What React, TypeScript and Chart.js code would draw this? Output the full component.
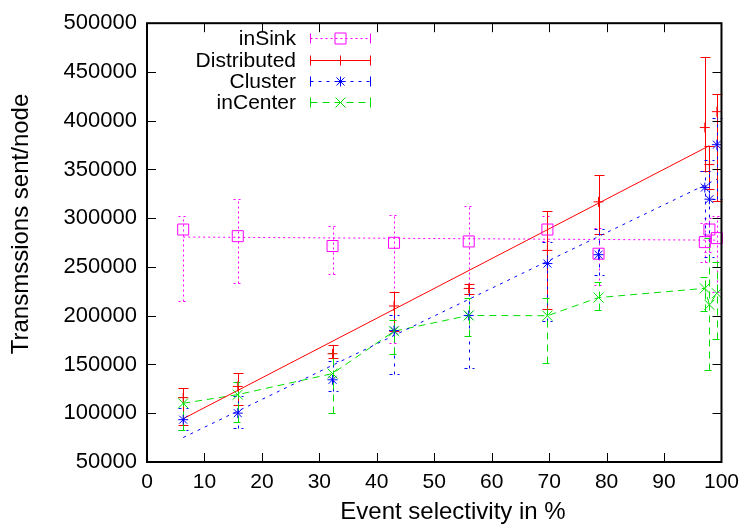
import React, { useEffect, useRef } from "react";
import { Chart, registerables } from "chart.js";

Chart.register(...registerables);

// ---- data ----
const xValues = [6.3, 15.8, 32.3, 43.0, 56.0, 69.7, 78.6, 97.1, 97.9, 99.2];

const inSinkY = [288400, 281600, 271500, 274800, 276200, 288400, 263600, 275500, 288400, 279600];
const inSinkLow = [214600, 233200, 242300, 171600, 222000, 276200, 231500, 255000, 265000, 224700];
const inSinkHigh = [302600, 319500, 292500, 303200, 312800, 302600, 289700, 295000, 300000, 302000];

const distributedY = [116000, 127500, 161000, 210000, 228000, 267000, 316800, 393000, 355000, 409300];
const distributedLow = [88000, 108000, 157000, 184000, 222000, 206700, 284000, 348300, 330000, 317900];
const distributedHigh = [125500, 141700, 170000, 224700, 233000, 307700, 343900, 465200, 373700, 427900];

const clusterY = [93400, 100100, 134300, 184800, 200300, 253500, 262600, 331400, 319500, 375400];
const clusterLow = [83000, 85200, 122400, 140700, 146800, 194200, 241700, 282000, 260000, 320000];
const clusterHigh = [105000, 118000, 153600, 200300, 228800, 275500, 289100, 348600, 360000, 402500];

const inCenterY = [110200, 119100, 140700, 184100, 200300, 200000, 218600, 228100, 211200, 223000];
const inCenterLow = [82500, 91000, 100500, 160400, 179700, 151900, 205400, 204400, 144500, 175700];
const inCenterHigh = [116300, 131600, 162000, 196000, 218000, 218000, 234900, 240000, 280000, 255000];

// straight trend lines (end points)
const inSinkFitX = [6.3, 99.2];
const inSinkFitY = [280700, 277500];
const distributedFitX = [6.3, 97.9];
const distributedFitY = [94400, 374400];
const clusterFitX = [6.3, 99.2];
const clusterFitY = [75100, 340000];

const seriesNames = ["inSink", "Distributed", "Cluster", "inCenter"];
const xTitle = "Event selectivity in %";
const yTitle = "Transmssions sent/node";
const xMin = 0, xMax = 100, xStep = 10;
const yMin = 50000, yMax = 500000, yStep = 50000;

// ---- styles ----
const FONT = "'Liberation Sans', Arial, sans-serif";
const MAGENTA = "#ff00ff";
const RED = "#ff0000";
const BLUE = "#0000ff";
const GREEN = "#00e000";
const DASH_SINK = [2, 3];
const DASH_RED: number[] = [];
const DASH_BLUE = [3, 5];
const DASH_GREEN = [7, 5];

const pts = (xs: number[], ys: number[]) => xs.map((x, i) => ({ x, y: ys[i] }));

const series = [
  { name: seriesNames[0], color: MAGENTA, dash: DASH_SINK, y: inSinkY, low: inSinkLow, high: inSinkHigh, marker: "square" },
  { name: seriesNames[1], color: RED, dash: DASH_RED, y: distributedY, low: distributedLow, high: distributedHigh, marker: "plus" },
  { name: seriesNames[2], color: BLUE, dash: DASH_BLUE, y: clusterY, low: clusterLow, high: clusterHigh, marker: "star" },
  { name: seriesNames[3], color: GREEN, dash: DASH_GREEN, y: inCenterY, low: inCenterLow, high: inCenterHigh, marker: "cross" },
];

function drawMarker(ctx: CanvasRenderingContext2D, kind: string, x: number, y: number) {
  ctx.setLineDash([]);
  ctx.beginPath();
  if (kind === "square") {
    ctx.rect(x - 5.5, y - 5.5, 11, 11);
  } else if (kind === "plus") {
    ctx.moveTo(x - 5, y); ctx.lineTo(x + 5, y);
    ctx.moveTo(x, y - 5); ctx.lineTo(x, y + 5);
  } else if (kind === "star") {
    ctx.moveTo(x - 5, y); ctx.lineTo(x + 5, y);
    ctx.moveTo(x, y - 5); ctx.lineTo(x, y + 5);
    ctx.moveTo(x - 4, y - 4); ctx.lineTo(x + 4, y + 4);
    ctx.moveTo(x - 4, y + 4); ctx.lineTo(x + 4, y - 4);
  } else {
    ctx.moveTo(x - 5, y - 5); ctx.lineTo(x + 5, y + 5);
    ctx.moveTo(x - 5, y + 5); ctx.lineTo(x + 5, y - 5);
  }
  ctx.stroke();
}

const errorBarPlugin = {
  id: "errorBars",
  beforeDatasetsDraw(chart: any) {
    const { ctx, scales } = chart;
    const xs = scales.x, ys = scales.y;
    ctx.save();
    ctx.lineWidth = 1;
    series.forEach((s) => {
      ctx.strokeStyle = s.color;
      ctx.setLineDash(s.dash);
      xValues.forEach((xv, i) => {
        const px = Math.round(xs.getPixelForValue(xv)) + 0.5;
        const pl = Math.round(ys.getPixelForValue(s.low[i])) + 0.5;
        const ph = Math.round(ys.getPixelForValue(s.high[i])) + 0.5;
        ctx.beginPath();
        ctx.moveTo(px, pl); ctx.lineTo(px, ph);
        ctx.moveTo(px - 5, pl); ctx.lineTo(px + 5, pl);
        ctx.moveTo(px - 5, ph); ctx.lineTo(px + 5, ph);
        ctx.stroke();
      });
    });
    ctx.restore();
  },
  afterDatasetsDraw(chart: any) {
    const { ctx, scales } = chart;
    const xs = scales.x, ys = scales.y;
    ctx.save();
    ctx.lineWidth = 1;
    series.forEach((s) => {
      ctx.strokeStyle = s.color;
      xValues.forEach((xv, i) => {
        drawMarker(ctx, s.marker, xs.getPixelForValue(xv), ys.getPixelForValue(s.y[i]));
      });
    });
    ctx.restore();
  },
};

const framePlugin = {
  id: "frame",
  afterDraw(chart: any) {
    const { ctx, chartArea: a, scales } = chart;
    const xs = scales.x, ys = scales.y;
    ctx.save();
    ctx.strokeStyle = "#000";
    ctx.setLineDash([]);
    ctx.lineWidth = 1;
    const T = 9;
    ctx.beginPath();
    for (let v = xMin + xStep; v < xMax; v += xStep) {
      const px = Math.round(xs.getPixelForValue(v)) + 0.5;
      ctx.moveTo(px, a.bottom); ctx.lineTo(px, a.bottom - T);
      ctx.moveTo(px, a.top); ctx.lineTo(px, a.top + T);
    }
    for (let v = yMin + yStep; v < yMax; v += yStep) {
      const py = Math.round(ys.getPixelForValue(v)) + 0.5;
      ctx.moveTo(a.left, py); ctx.lineTo(a.left + T, py);
      ctx.moveTo(a.right, py); ctx.lineTo(a.right - T, py);
    }
    ctx.stroke();
    ctx.lineWidth = 2;
    ctx.strokeRect(a.left, a.top, a.right - a.left, a.bottom - a.top);

    // axis titles
    ctx.fillStyle = "#000";
    ctx.font = `24px ${FONT}`;
    ctx.textAlign = "center";
    ctx.textBaseline = "middle";
    ctx.fillText(xTitle, 453, 512);
    ctx.save();
    ctx.translate(21, 224);
    ctx.rotate(-Math.PI / 2);
    ctx.fillText(yTitle, 0, 0);
    ctx.restore();

    // legend
    ctx.font = `21px ${FONT}`;
    ctx.textAlign = "right";
    ctx.textBaseline = "middle";
    const rows = [38, 60, 81, 102];
    series.forEach((s, i) => {
      const y = rows[i] + 0.5;
      ctx.fillText(s.name, 296, y + 1);
      ctx.lineWidth = 1;
      ctx.strokeStyle = s.color;
      ctx.setLineDash(s.dash);
      ctx.beginPath();
      ctx.moveTo(310.5, y); ctx.lineTo(370.5, y);
      ctx.stroke();
      ctx.setLineDash([]);
      ctx.beginPath();
      ctx.moveTo(310.5, y - 5); ctx.lineTo(310.5, y + 5);
      ctx.moveTo(370.5, y - 5); ctx.lineTo(370.5, y + 5);
      ctx.stroke();
      drawMarker(ctx, s.marker, 340.5, y);
    });
    ctx.restore();
  },
};

export default function App() {
  const ref = useRef<HTMLCanvasElement | null>(null);
  useEffect(() => {
    document.body.style.margin = "0";
    const canvas = ref.current!;
    const lineDs = (data: any[], color: string, dash: number[]) => ({
      type: "line",
      data,
      borderColor: color,
      borderWidth: 1,
      borderDash: dash,
      pointRadius: 0,
      showLine: true,
      fill: false,
      tension: 0,
    });
    const chart = new Chart(canvas, {
      type: "scatter",
      data: {
        datasets: [
          lineDs(pts(inSinkFitX, inSinkFitY), MAGENTA, DASH_SINK),
          lineDs(pts(distributedFitX, distributedFitY), RED, DASH_RED),
          lineDs(pts(clusterFitX, clusterFitY), BLUE, DASH_BLUE),
          lineDs(pts(xValues, inCenterY), GREEN, DASH_GREEN),
        ] as any,
      },
      options: {
        animation: false,
        responsive: false,
        devicePixelRatio: 1,
        layout: { padding: { top: 19, right: 23, left: 0, bottom: 0 } },
        plugins: { legend: { display: false }, tooltip: { enabled: false } },
        scales: {
          x: {
            type: "linear",
            min: xMin,
            max: xMax,
            grid: { display: false, drawTicks: false },
            border: { display: false },
            ticks: { stepSize: xStep, color: "#000", padding: 8, font: { family: FONT, size: 21 }, maxRotation: 0, callback: (v: any) => String(v) },
            afterFit: (s: any) => { s.height = 68; },
          },
          y: {
            type: "linear",
            min: yMin,
            max: yMax,
            grid: { display: false, drawTicks: false },
            border: { display: false },
            ticks: { stepSize: yStep, color: "#000", padding: 10, font: { family: FONT, size: 22 }, callback: (v: any) => String(v) },
            afterFit: (s: any) => { s.width = 147; },
          },
        },
      },
      plugins: [errorBarPlugin, framePlugin],
    } as any);
    return () => chart.destroy();
  }, []);
  return (
    <div style={{ width: 747, height: 530 }}>
      <canvas ref={ref} width={747} height={530} style={{ display: "block" }} />
    </div>
  );
}
